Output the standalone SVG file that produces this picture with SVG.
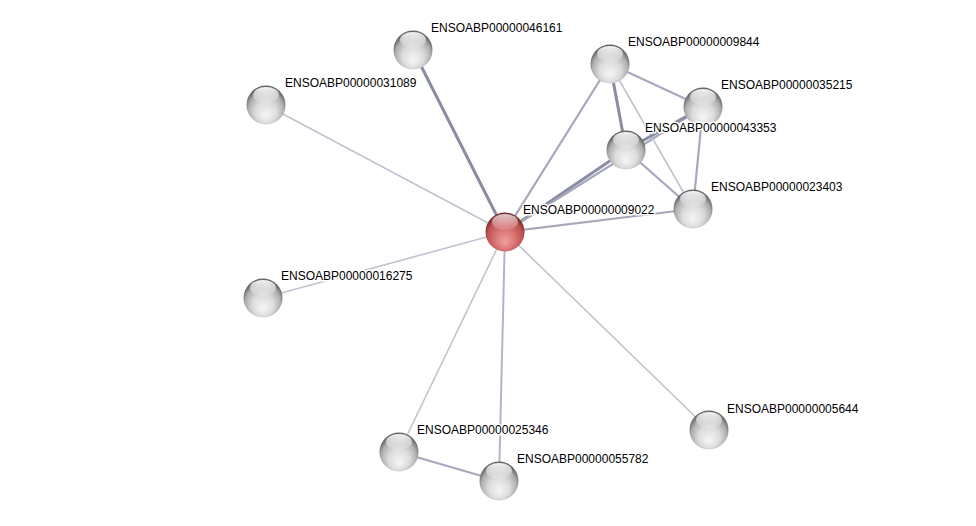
<svg xmlns="http://www.w3.org/2000/svg" width="976" height="526" viewBox="0 0 976 526">
<defs>
<radialGradient id="gw" cx="50%" cy="60%" r="55%" fx="50%" fy="78%">
<stop offset="0" stop-color="#f6f6f6"/>
<stop offset="0.5" stop-color="#dcdcdc"/>
<stop offset="0.82" stop-color="#aeaeae"/>
<stop offset="1" stop-color="#686868"/>
</radialGradient>
<radialGradient id="gr" cx="50%" cy="60%" r="55%" fx="50%" fy="78%">
<stop offset="0" stop-color="#f0a0a0"/>
<stop offset="0.5" stop-color="#d87272"/>
<stop offset="0.82" stop-color="#c05252"/>
<stop offset="1" stop-color="#7a2c2c"/>
</radialGradient>
<linearGradient id="hl" x1="0" y1="0" x2="0" y2="1">
<stop offset="0" stop-color="#fff" stop-opacity="0.95"/>
<stop offset="1" stop-color="#fff" stop-opacity="0.1"/>
</linearGradient>
<g id="sph">
<circle r="19.5" fill="url(#gw)"/>
<ellipse cx="0" cy="-10" rx="13" ry="8" fill="url(#hl)"/>
</g>
<g id="sphr">
<circle r="19.5" fill="url(#gr)"/>
<ellipse cx="0" cy="-10" rx="13" ry="8" fill="url(#hl)" opacity="0.8"/>
</g>
</defs>
<style>
.l{font-family:"Liberation Sans",Arial,sans-serif;font-size:12px;fill:#000;stroke:#fff;stroke-width:3px;paint-order:stroke;stroke-linejoin:round}
.thin{stroke:#c2c2d0;stroke-width:1.6}
.med{stroke:#a6a8bc;stroke-width:2.2}
.thk{stroke:#8a8ca4;stroke-width:3}
</style>
<rect width="976" height="526" fill="#fff"/>
<g id="edges" fill="none" stroke-linecap="round">
<line class="thk" x1="505" y1="232" x2="413" y2="50"/>
<line class="thin" x1="505" y1="232" x2="266" y2="105"/>
<line class="thin" x1="505" y1="232" x2="263" y2="298"/>
<line class="med" x1="505" y1="232" x2="610" y2="64"/>
<line class="thk" x1="505" y1="232" x2="626" y2="150"/>
<line class="med" x1="505" y1="232" x2="703" y2="107"/>
<line class="med" x1="505" y1="232" x2="693" y2="209"/>
<line class="thin" x1="505" y1="232" x2="399" y2="452"/>
<line class="med" x1="505" y1="232" x2="499" y2="481" style="stroke:#b2b4c6;stroke-width:2"/>
<line class="thin" x1="505" y1="232" x2="709" y2="430"/>
<line class="med" x1="610" y1="64" x2="703" y2="107"/>
<line class="thk" x1="610" y1="64" x2="626" y2="150"/>
<line class="thin" x1="610" y1="64" x2="693" y2="209"/>
<line class="med" x1="703" y1="107" x2="693" y2="209"/>
<line class="thk" x1="626" y1="150" x2="703" y2="107"/>
<line class="med" x1="626" y1="150" x2="693" y2="209"/>
<line class="med" x1="399" y1="452" x2="499" y2="481"/>
</g>
<g id="n46161"><use href="#sph" x="413" y="50"/><text class="l" x="431" y="32">ENSOABP00000046161</text></g>
<g id="n31089"><use href="#sph" x="266" y="105"/><text class="l" x="285" y="87">ENSOABP00000031089</text></g>
<g id="n9844"><use href="#sph" x="610" y="64"/><text class="l" x="628" y="46">ENSOABP00000009844</text></g>
<g id="n35215"><use href="#sph" x="703" y="107"/><text class="l" x="721" y="89">ENSOABP00000035215</text></g>
<g id="n43353"><use href="#sph" x="626" y="150"/><text class="l" x="645" y="132">ENSOABP00000043353</text></g>
<g id="n23403"><use href="#sph" x="693" y="209"/><text class="l" x="711" y="191">ENSOABP00000023403</text></g>
<g id="n9022"><use href="#sphr" x="505" y="232"/><text class="l" x="523" y="214">ENSOABP00000009022</text></g>
<g id="n16275"><use href="#sph" x="263" y="298"/><text class="l" x="281" y="280">ENSOABP00000016275</text></g>
<g id="n25346"><use href="#sph" x="399" y="452"/><text class="l" x="417" y="434">ENSOABP00000025346</text></g>
<g id="n55782"><use href="#sph" x="499" y="481"/><text class="l" x="517" y="463">ENSOABP00000055782</text></g>
<g id="n5644"><use href="#sph" x="709" y="430"/><text class="l" x="727" y="413">ENSOABP00000005644</text></g>
</svg>
